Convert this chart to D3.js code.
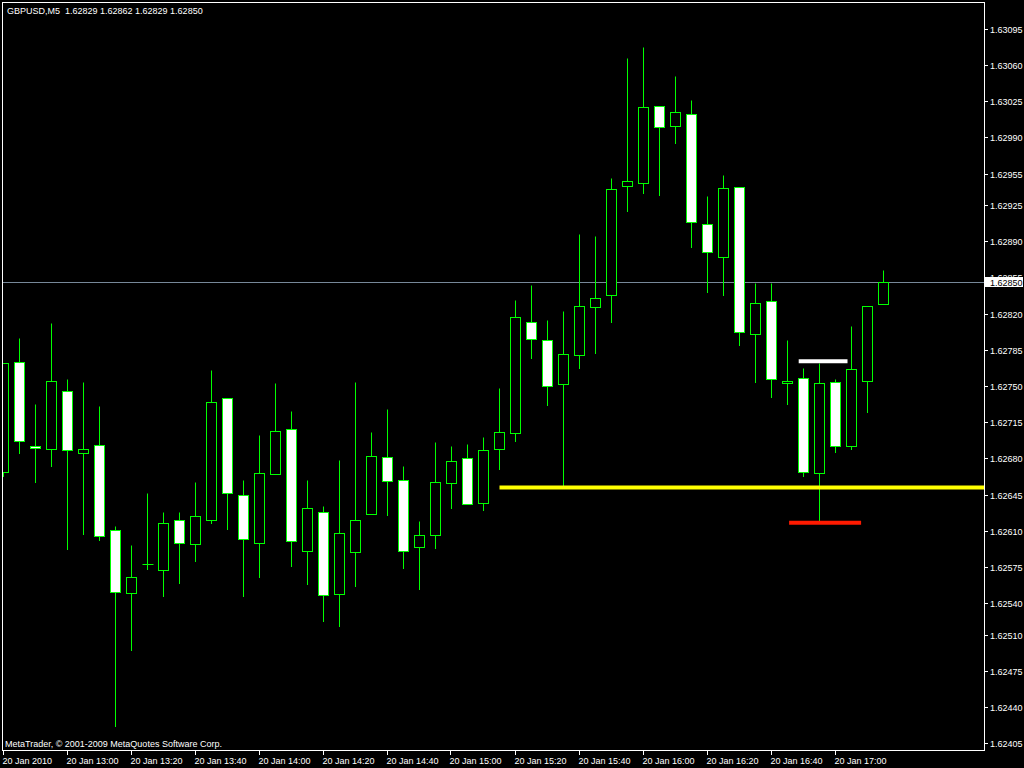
<!DOCTYPE html>
<html>
<head>
<meta charset="utf-8">
<script src="https://cdn.jsdelivr.net/npm/d3@7/dist/d3.min.js"></script>
<style>
  html, body { margin: 0; padding: 0; background: #000; }
  svg { display: block; }
  text { font-family: "Liberation Sans", Arial, sans-serif; font-size: 9px; fill: #fff; }
</style>
</head>
<body>
<svg id="chart" width="1024" height="768"></svg>
<script>
// GBPUSD M5, 20 Jan 2010, bars from 12:40 to 17:15
const symbol = "GBPUSD,M5";
const startTime = new Date(2010, 0, 20, 12, 40);
const barMinutes = 5;

const opens = [
  1.62667, 1.62773, 1.62692, 1.62689, 1.62745, 1.62685, 1.62693, 1.62611, 1.62550, 1.62578,
  1.62572, 1.62621, 1.62597, 1.62621, 1.62738, 1.62645, 1.62598, 1.62665, 1.62708, 1.62591,
  1.62628, 1.62549, 1.62590, 1.62626, 1.62681, 1.62659, 1.62595, 1.62606, 1.62656, 1.62680,
  1.62637, 1.62689, 1.62705, 1.62812, 1.62794, 1.62752, 1.62780, 1.62826, 1.62838, 1.62943,
  1.62946, 1.63020, 1.63001, 1.63013, 1.62906, 1.62875, 1.62942, 1.62800, 1.62832, 1.62753,
  1.62758, 1.62666, 1.62754, 1.62692, 1.62755, 1.62829];
const highs = [
  1.62772, 1.62796, 1.62733, 1.62811, 1.62757, 1.62754, 1.62731, 1.62615, 1.62596, 1.62647,
  1.62628, 1.62628, 1.62657, 1.62765, 1.62738, 1.62659, 1.62703, 1.62753, 1.62726, 1.62659,
  1.62634, 1.62679, 1.62754, 1.62706, 1.62728, 1.62673, 1.62620, 1.62696, 1.62692, 1.62694,
  1.62701, 1.62748, 1.62833, 1.62848, 1.62814, 1.62822, 1.62897, 1.62895, 1.62951, 1.63067,
  1.63077, 1.63020, 1.63049, 1.63026, 1.62933, 1.62954, 1.62942, 1.62849, 1.62849, 1.62794,
  1.62767, 1.62772, 1.62757, 1.62808, 1.62827, 1.62862];
const lows = [
  1.62663, 1.62685, 1.62657, 1.62673, 1.62593, 1.62607, 1.62601, 1.62422, 1.62495, 1.62573,
  1.62547, 1.62560, 1.62581, 1.62618, 1.62612, 1.62547, 1.62566, 1.62665, 1.62576, 1.62559,
  1.62523, 1.62518, 1.62557, 1.62626, 1.62625, 1.62574, 1.62554, 1.62594, 1.62632, 1.62636,
  1.62630, 1.62670, 1.62697, 1.62777, 1.62732, 1.62652, 1.62767, 1.62782, 1.62812, 1.62919,
  1.62936, 1.62934, 1.62985, 1.62884, 1.62841, 1.62838, 1.62790, 1.62754, 1.62739, 1.62733,
  1.62663, 1.62618, 1.62686, 1.62689, 1.62725, 1.62829];
const closes = [
  1.62772, 1.62697, 1.62690, 1.62755, 1.62688, 1.62689, 1.62605, 1.62551, 1.62566, 1.62578,
  1.62618, 1.62598, 1.62624, 1.62735, 1.62647, 1.62602, 1.62666, 1.62707, 1.62600, 1.62632,
  1.62548, 1.62608, 1.62621, 1.62682, 1.62658, 1.62591, 1.62606, 1.62657, 1.62678, 1.62636,
  1.62688, 1.62706, 1.62817, 1.62795, 1.62750, 1.62781, 1.62827, 1.62835, 1.62940, 1.62948,
  1.63019, 1.63000, 1.63015, 1.62908, 1.62879, 1.62941, 1.62802, 1.62830, 1.62757, 1.62755,
  1.62667, 1.62753, 1.62692, 1.62766, 1.62827, 1.62850];

// price scale labels shown on the right
const priceTicks = [1.63095, 1.63060, 1.63025, 1.62990, 1.62955, 1.62925, 1.62890, 1.62855,
  1.62820, 1.62785, 1.62750, 1.62715, 1.62680, 1.62645, 1.62610, 1.62575, 1.62540, 1.62510,
  1.62475, 1.62440, 1.62405];
// time scale: a label every 4 bars
const timeTickBars = [0, 4, 8, 12, 16, 20, 24, 28, 32, 36, 40, 44, 48, 52];

// horizontal level lines (price, start bar, end bar; null end = ray to the right edge)
const levelPrices = [1.62652, 1.62774, 1.62618];
const levelStarts = [31, 49.7, 49.1];
const levelEnds = [null, 52.75, 53.6];
const levelNames = ["support", "high", "low"];

const bidPrice = closes[closes.length - 1];

const bars = opens.map((o, i) => ({
  i, o, h: highs[i], l: lows[i], c: closes[i],
  t: new Date(startTime.getTime() + i * barMinutes * 60000)
}));

const W = 1024, H = 768;
const frame = { left: 2, top: 2, right: 984, bottom: 750 };

const svg = d3.select("#chart");
svg.append("rect").attr("width", W).attr("height", H).attr("fill", "#000");

const x = d3.scaleLinear().domain([0, bars.length - 1]).range([3.5, 3.5 + 16 * (bars.length - 1)]);
const y = d3.scaleLinear().domain([1.62405, 1.63095]).range([743.3, 28.7]);
const py = v => Math.round(y(v)) + 0.5;

svg.append("clipPath").attr("id", "plot")
  .append("rect")
  .attr("x", frame.left + 1).attr("y", frame.top + 1)
  .attr("width", frame.right - frame.left - 1).attr("height", frame.bottom - frame.top - 1);

const plot = svg.append("g").attr("clip-path", "url(#plot)");

// bid line
plot.append("line")
  .attr("x1", frame.left).attr("x2", frame.right)
  .attr("y1", py(bidPrice)).attr("y2", py(bidPrice))
  .attr("stroke", "#778899").attr("stroke-width", 1);

// candles
const green = "#00ff00";
const candle = plot.selectAll("g.bar").data(bars).join("g").attr("class", "bar");

candle.append("line")
  .attr("x1", d => x(d.i)).attr("x2", d => x(d.i))
  .attr("y1", d => py(d.h)).attr("y2", d => py(d.l) + 0.5)
  .attr("stroke", green).attr("stroke-width", 1);

candle.filter(d => d.o !== d.c).append("rect")
  .attr("x", d => x(d.i) - 5)
  .attr("width", 10)
  .attr("y", d => py(Math.max(d.o, d.c)))
  .attr("height", d => Math.max(1, py(Math.min(d.o, d.c)) - py(Math.max(d.o, d.c))))
  .attr("fill", d => d.c < d.o ? "#ffffff" : "#000000")
  .attr("stroke", green).attr("stroke-width", 1);

candle.filter(d => d.o === d.c).append("line")
  .attr("x1", d => x(d.i) - 5).attr("x2", d => x(d.i) + 6)
  .attr("y1", d => py(d.o)).attr("y2", d => py(d.o))
  .attr("stroke", green).attr("stroke-width", 1);

// level lines
const levelColor = { support: "#ffff00", high: "#ffffff", low: "#ff1a00" };
plot.selectAll("line.level")
  .data(levelPrices.map((p, k) => ({ p, s: levelStarts[k], e: levelEnds[k], name: levelNames[k] })))
  .join("line").attr("class", "level")
  .attr("x1", d => x(d.s))
  .attr("x2", d => d.e === null ? frame.right : x(d.e))
  .attr("y1", d => y(d.p)).attr("y2", d => y(d.p))
  .attr("stroke", d => levelColor[d.name]).attr("stroke-width", 4);

// frame
svg.append("rect")
  .attr("x", frame.left + 0.5).attr("y", frame.top + 0.5)
  .attr("width", frame.right - frame.left).attr("height", frame.bottom - frame.top)
  .attr("fill", "none").attr("stroke", "#fff").attr("stroke-width", 1);

// right price axis
const pAxis = svg.append("g");
priceTicks.forEach(v => {
  pAxis.append("line")
    .attr("x1", frame.right + 1).attr("x2", frame.right + 4)
    .attr("y1", py(v)).attr("y2", py(v))
    .attr("stroke", "#fff");
  pAxis.append("text")
    .attr("x", frame.right + 6).attr("y", Math.round(y(v)) + 3.5)
    .text(v.toFixed(5));
});

// bid price box
svg.append("rect")
  .attr("x", frame.right + 1).attr("y", Math.round(y(bidPrice)) - 5)
  .attr("width", 38).attr("height", 10)
  .attr("fill", "#fff");
svg.append("text")
  .attr("x", frame.right + 6).attr("y", Math.round(y(bidPrice)) + 3.5)
  .style("fill", "#000")
  .text(bidPrice.toFixed(5));

// time axis
const fmtTime = d3.timeFormat("%H:%M");
const tAxis = svg.append("g");
timeTickBars.forEach((b, k) => {
  const tx = Math.round(x(b)) + 0.5 - 1;
  tAxis.append("line")
    .attr("x1", tx).attr("x2", tx)
    .attr("y1", frame.bottom + 1).attr("y2", frame.bottom + 5)
    .attr("stroke", "#fff");
  tAxis.append("text")
    .attr("x", tx - 1).attr("y", 764)
    .text(k === 0 ? "20 Jan 2010" : "20 Jan " + fmtTime(bars[b].t));
});

// header and footer
const last = bars[bars.length - 1];
svg.append("text")
  .attr("x", 7).attr("y", 14)
  .attr("xml:space", "preserve").style("white-space", "pre")
  .text(symbol + "  " + [last.o, last.h, last.l, last.c].map(v => v.toFixed(5)).join(" "));

svg.append("text")
  .attr("x", 5).attr("y", 747)
  .text("MetaTrader, \u00a9 2001-2009 MetaQuotes Software Corp.");
</script>
</body>
</html>
